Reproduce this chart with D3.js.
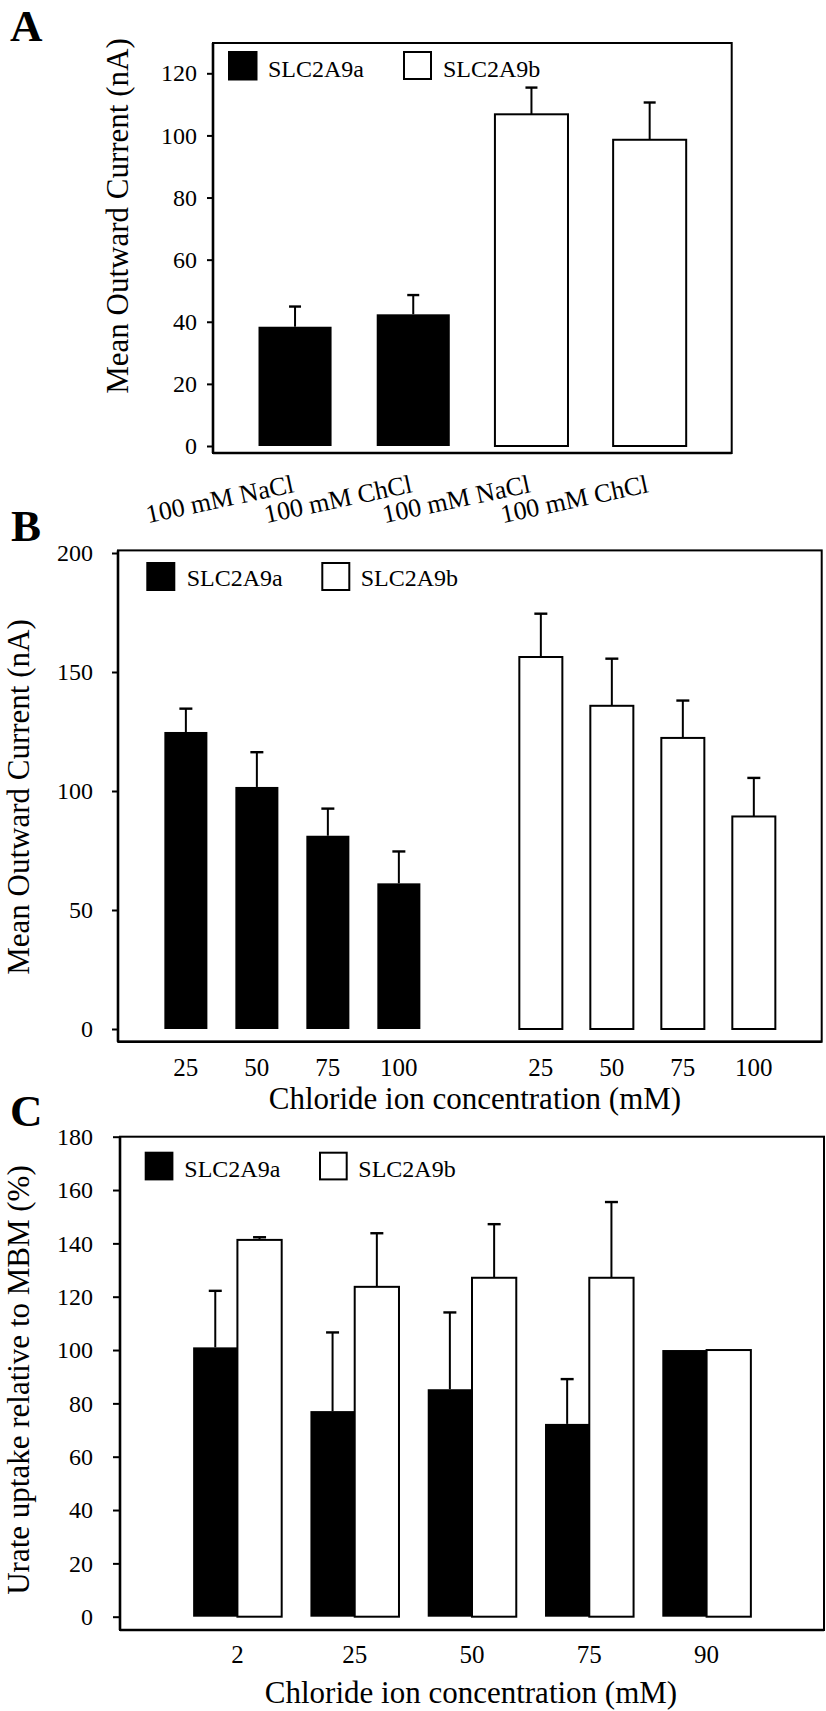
<!DOCTYPE html>
<html><head><meta charset="utf-8">
<script src="https://cdn.jsdelivr.net/npm/d3@7"></script>
<style>
body{margin:0;background:#fff;}
svg{display:block;}
text{font-family:"Liberation Serif","Times New Roman",serif;fill:#000;}
</style></head><body>
<script>
// ---------------- DATA ----------------
const legendLabels = ["SLC2A9a", "SLC2A9b"];

// Panel A
const categoriesA = ["100 mM NaCl", "100 mM ChCl", "100 mM NaCl", "100 mM ChCl"];
const isoformA = ["SLC2A9a", "SLC2A9a", "SLC2A9b", "SLC2A9b"];
const valuesA = [38.4, 42.4, 106.8, 98.6];
const errorsA = [6.5, 6.2, 8.6, 12.0];
const ticksA = [0, 20, 40, 60, 80, 100, 120];
const yTitleA = "Mean Outward Current (nA)";

// Panel B
const concB = ["25", "50", "75", "100"];
const valuesBa = [124.8, 101.7, 81.2, 61.2];
const errorsBa = [9.8, 14.6, 11.4, 13.4];
const valuesBb = [156.3, 135.8, 122.3, 89.3];
const errorsBb = [18.2, 19.8, 15.7, 16.2];
const ticksB = [0, 50, 100, 150, 200];
const yTitleB = "Mean Outward Current (nA)";
const xTitleB = "Chloride ion concentration (mM)";

// Panel C
const concC = ["2", "25", "50", "75", "90"];
const valuesCa = [101.0, 77.1, 85.3, 72.3, 100];
const errorsCa = [21.2, 29.5, 28.8, 16.8, 0];
const valuesCb = [141.3, 123.7, 127.1, 127.1, 100];
const errorsCb = [1.0, 20.1, 20.1, 28.4, 0];
const ticksC = [0, 20, 40, 60, 80, 100, 120, 140, 160, 180];
const yTitleC = "Urate uptake relative to MBM (%)";
const xTitleC = "Chloride ion concentration (mM)";

// ---------------- DRAWING ----------------
const W = 826, H = 1711;
const FONT = '"Liberation Serif","Times New Roman",serif';
const svg = d3.select("body").append("svg").attr("width", W).attr("height", H);
const fillOf = k => k === legendLabels[0] ? "#000" : "#fff";

function frame(box) {
  svg.append("rect").attr("x", box.l).attr("y", box.t)
    .attr("width", box.r - box.l).attr("height", box.b - box.t)
    .attr("fill", "none").attr("stroke", "#000").attr("stroke-width", 2);
  svg.append("line").attr("x1", box.l).attr("x2", box.l).attr("y1", box.t).attr("y2", box.b)
    .attr("stroke", "#000").attr("stroke-width", 2.6);
  svg.append("line").attr("x1", box.l).attr("x2", box.r).attr("y1", box.b).attr("y2", box.b)
    .attr("stroke", "#000").attr("stroke-width", 2.6);
}

function yAxis(y, ticks, box, tickLen, pad) {
  const g = svg.append("g").attr("transform", `translate(${box.l},0)`)
    .call(d3.axisLeft(y).tickValues(ticks).tickSize(tickLen).tickPadding(pad));
  g.select(".domain").remove();
  g.attr("font-family", FONT).attr("font-size", 24);
  g.selectAll(".tick line").attr("stroke", "#000").attr("stroke-width", 2);
  g.selectAll(".tick text").attr("fill", "#000");
}

function bar(x, w, y, v, iso) {
  const isWhite = iso !== legendLabels[0];
  svg.append("rect").attr("x", x).attr("width", w)
    .attr("y", y(v)).attr("height", y(0) - y(v))
    .attr("fill", fillOf(iso))
    .attr("stroke", isWhite ? "#000" : "none").attr("stroke-width", 2);
}

function errBar(cx, y, v, e, capW) {
  if (!e) return;
  svg.append("line").attr("x1", cx).attr("x2", cx).attr("y1", y(v)).attr("y2", y(v + e))
    .attr("stroke", "#000").attr("stroke-width", 2);
  svg.append("line").attr("x1", cx - capW / 2).attr("x2", cx + capW / 2)
    .attr("y1", y(v + e)).attr("y2", y(v + e))
    .attr("stroke", "#000").attr("stroke-width", 2.4);
}

function legend(items) {
  items.forEach(it => {
    svg.append("rect").attr("x", it.x).attr("y", it.y).attr("width", it.s).attr("height", it.s)
      .attr("fill", fillOf(it.label)).attr("stroke", "#000").attr("stroke-width", 2);
    svg.append("text").attr("x", it.tx).attr("y", it.ty).attr("font-size", 24).text(it.label);
  });
}

function panelLetter(t, x, y) {
  svg.append("text").attr("x", x).attr("y", y).attr("font-size", 45)
    .attr("font-weight", "bold").text(t);
}

function yTitle(t, x, y) {
  svg.append("text").attr("transform", `translate(${x},${y}) rotate(-90)`)
    .attr("text-anchor", "middle").attr("font-size", 31).text(t);
}

function xTitle(t, x, y) {
  svg.append("text").attr("x", x).attr("y", y)
    .attr("text-anchor", "middle").attr("font-size", 31).text(t);
}

// ---------- Panel A ----------
const boxA = {l: 213, t: 43, r: 731.7, b: 453};
const yA = d3.scaleLinear().domain([0, 120]).range([446, 73.3]);
const xA = d3.scaleBand().domain(d3.range(categoriesA.length)).range([boxA.l, boxA.r])
  .paddingInner(0.382).paddingOuter(0.385);
frame(boxA);
yAxis(yA, ticksA, boxA, 6, 10);
valuesA.forEach((v, i) => bar(xA(i), xA.bandwidth(), yA, v, isoformA[i]));
valuesA.forEach((v, i) => errBar(xA(i) + xA.bandwidth() / 2, yA, v, errorsA[i], 12));
categoriesA.forEach((c, i) => {
  const cx = xA(i) + xA.bandwidth() / 2, by = 492;
  svg.append("text").attr("x", cx).attr("y", by).attr("text-anchor", "end")
    .attr("font-size", 26).attr("transform", `rotate(-12,${cx},${by})`).text(c);
});
legend([
  {label: legendLabels[0], x: 229, y: 52, s: 27.5, tx: 268, ty: 76.5},
  {label: legendLabels[1], x: 404, y: 52, s: 27, tx: 443, ty: 76.5}
]);
yTitle(yTitleA, 128, 216);
panelLetter("A", 10, 41);

// ---------- Panel B ----------
const boxB = {l: 118, t: 550.4, r: 821.7, b: 1041.7};
const yB = d3.scaleLinear().domain([0, 200]).range([1029, 553]);
const slotsB = [...concB.map(c => "a" + c), "gap", ...concB.map(c => "b" + c)];
const xB = d3.scaleBand().domain(slotsB).range([boxB.l, boxB.r])
  .paddingInner(0.394).paddingOuter(0.653);
frame(boxB);
yAxis(yB, ticksB, boxB, 6, 19);
concB.forEach((c, i) => {
  bar(xB("a" + c), xB.bandwidth(), yB, valuesBa[i], legendLabels[0]);
  bar(xB("b" + c), xB.bandwidth(), yB, valuesBb[i], legendLabels[1]);
});
concB.forEach((c, i) => {
  errBar(xB("a" + c) + xB.bandwidth() / 2, yB, valuesBa[i], errorsBa[i], 13);
  errBar(xB("b" + c) + xB.bandwidth() / 2, yB, valuesBb[i], errorsBb[i], 13);
});
["a", "b"].forEach(p => concB.forEach(c => {
  svg.append("text").attr("x", xB(p + c) + xB.bandwidth() / 2).attr("y", 1076)
    .attr("text-anchor", "middle").attr("font-size", 25).text(c);
}));
legend([
  {label: legendLabels[0], x: 147.3, y: 563, s: 27, tx: 186.7, ty: 586},
  {label: legendLabels[1], x: 322.3, y: 563, s: 27, tx: 360.7, ty: 586}
]);
yTitle(yTitleB, 28.5, 797);
xTitle(xTitleB, 475, 1109);
panelLetter("B", 11, 541);

// ---------- Panel C ----------
const boxC = {l: 120, t: 1136.7, r: 824, b: 1630};
const yC = d3.scaleLinear().domain([0, 180]).range([1616.7, 1136.7]);
const xC = d3.scaleBand().domain(concC).range([boxC.l, boxC.r])
  .paddingInner(0.245).paddingOuter(0.6235);
const subC = d3.scaleBand().domain(legendLabels).range([0, xC.bandwidth()]);
frame(boxC);
yAxis(yC, ticksC, boxC, 7, 20);
concC.forEach((c, i) => {
  bar(xC(c) + subC(legendLabels[0]), subC.bandwidth(), yC, valuesCa[i], legendLabels[0]);
  bar(xC(c) + subC(legendLabels[1]), subC.bandwidth(), yC, valuesCb[i], legendLabels[1]);
});
concC.forEach((c, i) => {
  errBar(xC(c) + subC(legendLabels[0]) + subC.bandwidth() / 2, yC, valuesCa[i], errorsCa[i], 13);
  errBar(xC(c) + subC(legendLabels[1]) + subC.bandwidth() / 2, yC, valuesCb[i], errorsCb[i], 13);
});
concC.forEach(c => {
  svg.append("text").attr("x", xC(c) + xC.bandwidth() / 2).attr("y", 1663)
    .attr("text-anchor", "middle").attr("font-size", 25).text(c);
});
legend([
  {label: legendLabels[0], x: 145.7, y: 1152.7, s: 26.7, tx: 184.3, ty: 1176.7},
  {label: legendLabels[1], x: 320, y: 1152.7, s: 26.7, tx: 358.3, ty: 1176.7}
]);
yTitle(yTitleC, 28.5, 1380);
xTitle(xTitleC, 471, 1703);
panelLetter("C", 10, 1126);
</script>
</body></html>
